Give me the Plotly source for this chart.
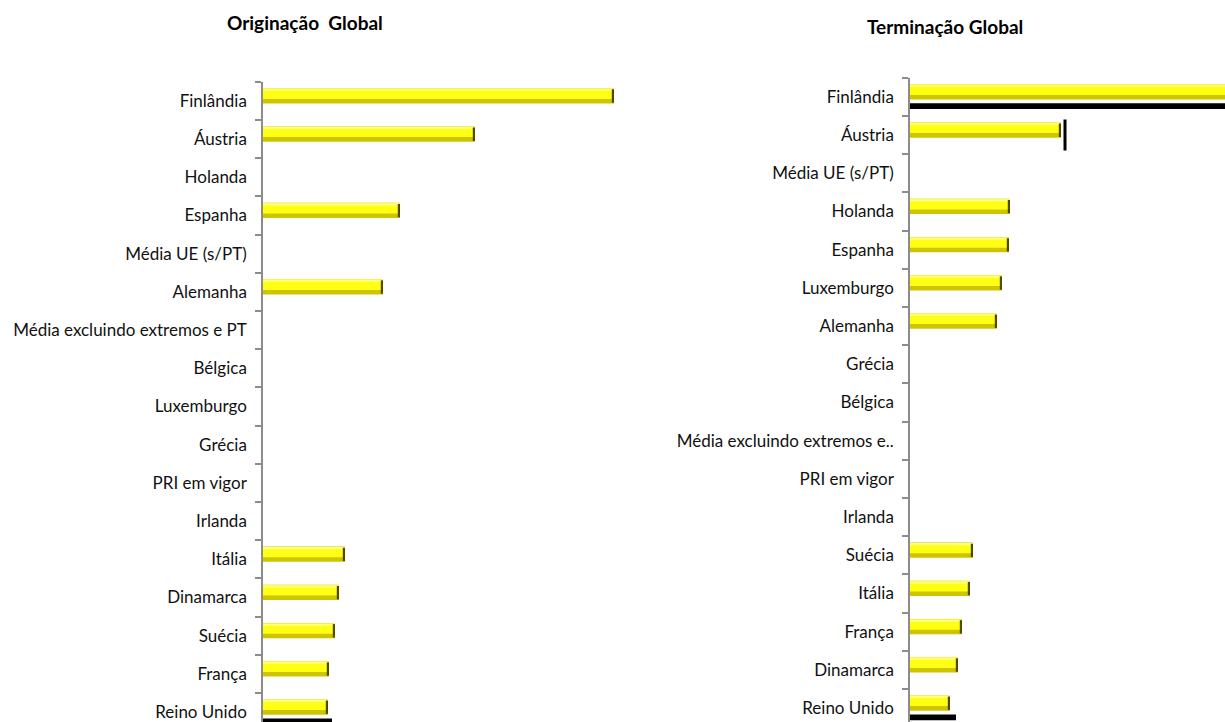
import plotly.graph_objects as go

W, H = 1225, 722

# ---- data ----
left_title = "Originação\u00a0 Global"
left_cats = ["Finlândia", "Áustria", "Holanda", "Espanha", "Média UE (s/PT)", "Alemanha",
             "Média excluindo extremos e PT", "Bélgica", "Luxemburgo", "Grécia", "PRI em vigor",
             "Irlanda", "Itália", "Dinamarca", "Suécia", "França", "Reino Unido"]
left_vals = [35.1, 21.2, None, 13.7, None, 12.0, None, None, None, None, None, None,
             8.2, 7.6, 7.2, 6.6, 6.5]
left_black = [None] * 16 + [6.9]
left_marks = [None] * 17

right_title = "Terminação Global"
right_cats = ["Finlândia", "Áustria", "Média UE (s/PT)", "Holanda", "Espanha", "Luxemburgo",
              "Alemanha", "Grécia", "Bélgica", "Média excluindo extremos e..", "PRI em vigor",
              "Irlanda", "Suécia", "Itália", "França", "Dinamarca", "Reino Unido"]
right_vals = [33.5, 15.1, None, 10.0, 9.9, 9.2, 8.7, None, None, None, None, None,
              6.3, 6.0, 5.2, 4.8, 4.0]
right_black = [33.5] + [None] * 15 + [4.6]
right_marks = [None, 15.5] + [None] * 15

FONT = "Lato, Carlito, Calibri, sans-serif"
STEP = 38.2  # px per category

fig = go.Figure()


def add_panel(n, cats, vals, black, marks, x0px, xmax, top_px):
    xa = "x" if n == 1 else f"x{n}"
    ya = "y" if n == 1 else f"y{n}"
    layers = [
        ("#CFC400", -0.33, 0.40),   # darker lower body
        ("#FFFF14", -0.32, 0.27),   # bright upper body
        ("#FFFF7A", -0.32, 0.06),   # highlight top edge
    ]
    for col, off, wid in layers:
        fig.add_trace(go.Bar(
            y=cats, x=vals, orientation="h", xaxis=xa, yaxis=ya,
            marker=dict(color=col, line=dict(width=0)),
            offset=off, width=wid, showlegend=False, hoverinfo="skip"))
    # dark end cap
    caps = [None if v is None else 0.22 for v in vals]
    bases = [None if v is None else v - 0.22 for v in vals]
    fig.add_trace(go.Bar(
        y=cats, x=caps, base=bases, orientation="h", xaxis=xa, yaxis=ya,
        marker=dict(color="#4F4A00", line=dict(width=0)),
        offset=-0.30, width=0.35, showlegend=False, hoverinfo="skip"))
    # black series
    fig.add_trace(go.Bar(
        y=cats, x=black, orientation="h", xaxis=xa, yaxis=ya,
        marker=dict(color="#000000", line=dict(width=0)),
        offset=0.17, width=0.15, showlegend=False, hoverinfo="skip"))
    # small black marks
    fig.add_trace(go.Scatter(
        y=cats, x=marks, mode="markers", xaxis=xa, yaxis=ya,
        marker=dict(symbol="line-ns", size=22, line=dict(width=3, color="#000000")),
        showlegend=False, hoverinfo="skip"))

    width_px = xmax * 10
    bottom_idx = (H - top_px) / STEP - 0.5
    fig.update_layout(**{
        ("xaxis" if n == 1 else f"xaxis{n}"): dict(
            domain=[x0px / W, min(1.0, (x0px + width_px) / W)], range=[0, xmax],
            showline=False, showgrid=False, zeroline=False, showticklabels=False,
            anchor=ya, fixedrange=True),
        ("yaxis" if n == 1 else f"yaxis{n}"): dict(
            domain=[0, 1 - top_px / H], range=[bottom_idx, -0.5],
            type="category", categoryorder="array", categoryarray=cats,
            showline=True, linecolor="#8C8C8C", linewidth=1.5,
            ticks="outside", tickson="boundaries", ticklen=6, tickcolor="#8C8C8C",
            tickwidth=1.5, showgrid=False, zeroline=False,
            tickfont=dict(family=FONT, size=17, color="#111111"),
            ticklabelstandoff=11, anchor=xa, fixedrange=True),
    })


add_panel(1, left_cats, left_vals, left_black, left_marks, 263, 36.5, 81.7)
add_panel(2, right_cats, right_vals, right_black, right_marks, 910, 31.5, 77.7)

fig.update_layout(
    width=W, height=H, margin=dict(l=0, r=0, t=0, b=0),
    paper_bgcolor="white", plot_bgcolor="rgba(0,0,0,0)",
    barmode="overlay", showlegend=False,
    annotations=[
        dict(text=f"<b>{left_title}</b>", x=305 / W, y=1 - 22.5 / H, xref="paper", yref="paper",
             xanchor="center", yanchor="middle",
             showarrow=False, font=dict(family=FONT, size=19, color="#000000")),
        dict(text=f"<b>{right_title}</b>", x=945 / W, y=1 - 27 / H, xref="paper", yref="paper",
             xanchor="center", yanchor="middle",
             showarrow=False, font=dict(family=FONT, size=19, color="#000000")),
    ],
)

fig.write_html("out.html")
